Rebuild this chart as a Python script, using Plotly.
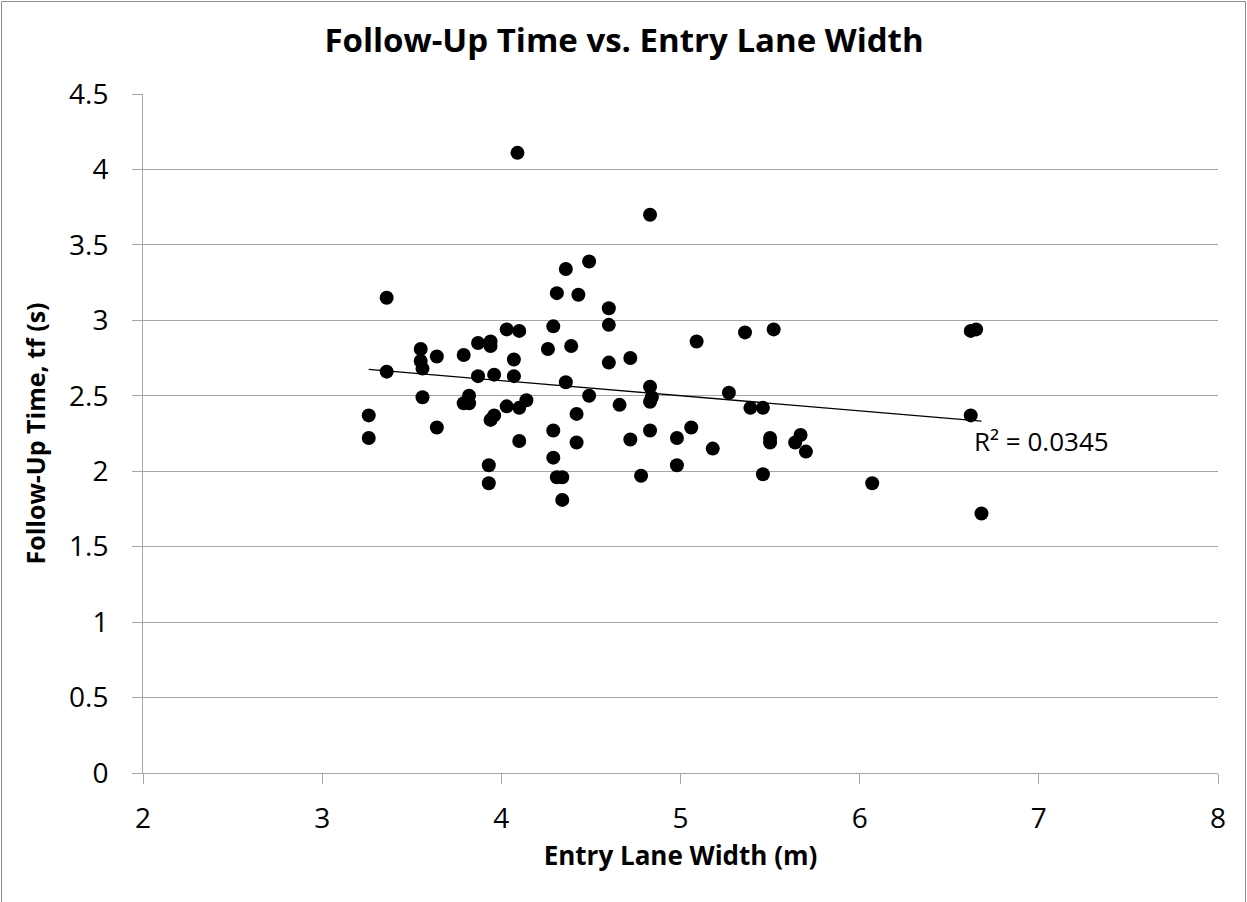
import numpy as np
import plotly.graph_objects as go

# ── Data ─────────────────────────────────────────────────────────────────────
lane_width = [
    3.26, 3.26, 3.36, 3.36, 3.55, 3.55, 3.56, 3.56, 3.64, 3.64,
    3.79, 3.79, 3.82, 3.82, 3.87, 3.87, 3.94, 3.94, 3.96, 3.96,
    3.94, 3.93, 3.93, 4.03, 4.03, 4.07, 4.07, 4.10, 4.10, 4.10,
    4.14, 4.09, 4.26, 4.29, 4.29, 4.29, 4.31, 4.31, 4.34, 4.34,
    4.36, 4.36, 4.39, 4.43, 4.42, 4.42, 4.49, 4.49, 4.60, 4.60,
    4.60, 4.66, 4.72, 4.72, 4.78, 4.83, 4.83, 4.84, 4.83, 4.83,
    4.98, 4.98, 5.06, 5.09, 5.18, 5.27, 5.36, 5.39, 5.46, 5.46,
    5.50, 5.50, 5.52, 5.64, 5.67, 5.70, 6.07, 6.62, 6.65, 6.62,
    6.68,
]
follow_up = [
    2.37, 2.22, 3.15, 2.66, 2.81, 2.73, 2.68, 2.49, 2.76, 2.29,
    2.77, 2.45, 2.50, 2.45, 2.85, 2.63, 2.86, 2.83, 2.64, 2.37,
    2.34, 2.04, 1.92, 2.94, 2.43, 2.74, 2.63, 2.93, 2.42, 2.20,
    2.47, 4.11, 2.81, 2.96, 2.27, 2.09, 3.18, 1.96, 1.96, 1.81,
    3.34, 2.59, 2.83, 3.17, 2.38, 2.19, 3.39, 2.50, 3.08, 2.97,
    2.72, 2.44, 2.75, 2.21, 1.97, 3.70, 2.56, 2.49, 2.46, 2.27,
    2.22, 2.04, 2.29, 2.86, 2.15, 2.52, 2.92, 2.42, 2.42, 1.98,
    2.22, 2.19, 2.94, 2.19, 2.24, 2.13, 1.92, 2.93, 2.94, 2.37,
    1.72,
]
r2_label = "R² = 0.0345"

x_ticks = [2, 3, 4, 5, 6, 7, 8]
y_ticks = [0, 0.5, 1, 1.5, 2, 2.5, 3, 3.5, 4, 4.5]

FONT = "'Open Sans', Lato, sans-serif"
GRID = "#A6A6A6"

# ── Linear trendline ─────────────────────────────────────────────────────────
slope, intercept = np.polyfit(lane_width, follow_up, 1)
x_fit = [min(lane_width), max(lane_width)]
y_fit = [slope * v + intercept for v in x_fit]

fig = go.Figure()

fig.add_trace(go.Scatter(
    x=lane_width, y=follow_up,
    mode="markers",
    marker=dict(color="#000000", size=14),
    showlegend=False,
))

fig.add_trace(go.Scatter(
    x=x_fit, y=y_fit,
    mode="lines",
    line=dict(color="#000000", width=1.3),
    showlegend=False,
))

fig.add_annotation(
    x=6.625, y=2.2, xref="x", yref="y",
    text=r2_label, showarrow=False,
    xanchor="left", yanchor="middle",
    font=dict(family=FONT, size=26, color="#000000"),
)

# outer chart border
L, R, T, B = 143, 29, 94, 129
W, H = 1247, 902
pw, ph = W - L - R, H - T - B
fig.add_shape(
    type="rect", xref="paper", yref="paper",
    x0=(1.5 - L) / pw, x1=(W - 1.5 - L) / pw,
    y0=(B - H + 1.5) / ph, y1=(H - 1.5 - B) / ph,
    line=dict(color="#8C8C8C", width=1),
    fillcolor="rgba(0,0,0,0)",
    layer="below",
)

fig.update_layout(
    width=W, height=H,
    margin=dict(l=L, r=R, t=T, b=B),
    paper_bgcolor="#FFFFFF",
    plot_bgcolor="#FFFFFF",
    font=dict(family=FONT, color="#000000"),
    title=dict(
        text="<b>Follow-Up Time vs. Entry Lane Width</b>",
        font=dict(family=FONT, size=33, color="#000000"),
        x=624 / W, xref="container", xanchor="center",
        y=1 - 40 / H, yref="container", yanchor="middle",
    ),
    xaxis=dict(
        range=[2, 8],
        tickvals=x_ticks,
        ticks="outside", ticklen=10, tickcolor=GRID,
        ticklabelstandoff=10,
        showline=True, linecolor=GRID, linewidth=1,
        showgrid=False, zeroline=False,
        tickfont=dict(family=FONT, size=28, color="#000000"),
        title=dict(text="<b>Entry Lane Width (m)</b>",
                   font=dict(family=FONT, size=26, color="#000000"),
                   standoff=12),
    ),
    yaxis=dict(
        range=[0, 4.5],
        tickvals=y_ticks,
        ticktext=[f"{v:g}" for v in y_ticks],
        ticks="outside", ticklen=10, tickcolor=GRID,
        ticklabelstandoff=18,
        showline=True, linecolor=GRID, linewidth=1,
        showgrid=True, gridcolor=GRID, gridwidth=1,
        zeroline=False,
        tickfont=dict(family=FONT, size=28, color="#000000"),
        title=dict(text="<b>Follow-Up Time, tf (s)</b>",
                   font=dict(family=FONT, size=25, color="#000000"),
                   standoff=16),
    ),
)

fig.write_html(
    "out.html",
    config={"displayModeBar": False},
    post_script="document.body.style.margin='0';",
)
